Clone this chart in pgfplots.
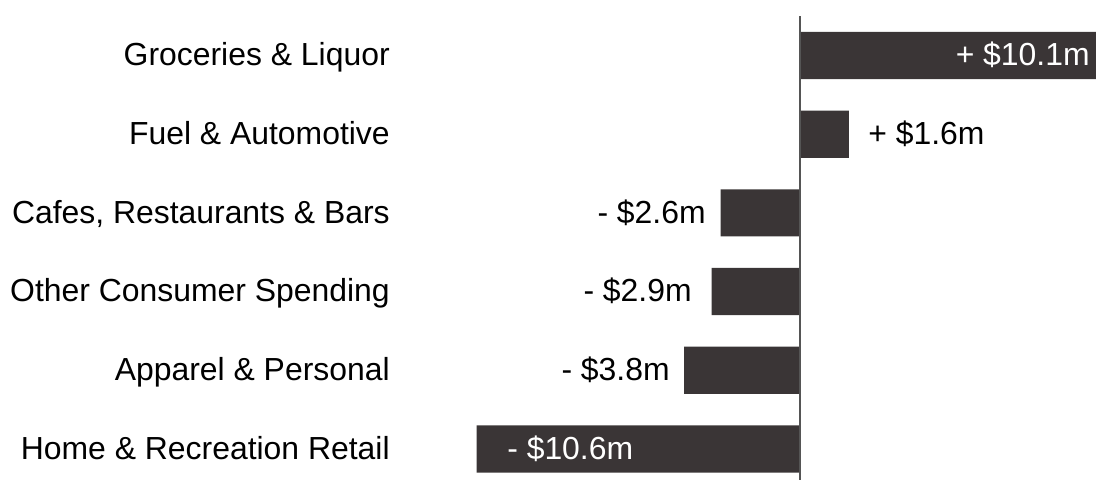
\documentclass[border=0pt]{standalone}
\usepackage{fontspec}
\setmainfont{Liberation Sans}
\usepackage{pgfplots}
\pgfplotsset{compat=1.18}
\definecolor{barfill}{HTML}{3A3536}
\definecolor{zeroline}{HTML}{555555}
\tikzset{lbl/.style={font=\fontsize{15.95}{18}\selectfont, inner sep=0pt, text height=0.72em, text depth=0pt, yshift=-1.6pt}}

\begin{document}
\begin{tikzpicture}
\begin{axis}[
  scale only axis,
  width=548pt,
  height=240pt,
  xbar,
  bar width=0.6,
  xmin=-26.23, xmax=9.705,
  ymin=-0.705, ymax=5.394,
  y dir=reverse,
  axis lines=none,
  xtick=\empty, ytick=\empty,
]
\addplot[fill=barfill, draw=none] coordinates {
  (10.1,0) (1.6,1) (-2.6,2) (-2.9,3) (-3.8,4) (-10.6,5)
};
\addplot[zeroline, line width=0.8pt, sharp plot, forget plot] coordinates {(0,-0.5) (0,5.394)};

\coordinate (bl) at (rel axis cs:0,0);
\coordinate (tr) at (rel axis cs:1,1);

% category labels
\node[lbl, anchor=east] at (axis cs:-13.44,0) {Groceries \& Liquor};
\node[lbl, anchor=east] at (axis cs:-13.44,1) {Fuel \& Automotive};
\node[lbl, anchor=east] at (axis cs:-13.44,2) {Cafes, Restaurants \& Bars};
\node[lbl, anchor=east] at (axis cs:-13.44,3) {Other Consumer Spending};
\node[lbl, anchor=east] at (axis cs:-13.44,4) {Apparel \& Personal};
\node[lbl, anchor=east] at (axis cs:-13.44,5) {Home \& Recreation Retail};

% value labels
\node[lbl, anchor=east, text=white] at (axis cs:9.51,0) {+ \$10.1m};
\node[lbl, anchor=west] at (axis cs:2.23,1) {+ \$1.6m};
\node[lbl, anchor=east] at (axis cs:-3.08,2) {- \$2.6m};
\node[lbl, anchor=east] at (axis cs:-3.54,3) {- \$2.9m};
\node[lbl, anchor=east] at (axis cs:-4.26,4) {- \$3.8m};
\node[lbl, anchor=west, text=white] at (axis cs:-9.61,5) {- \$10.6m};
\end{axis}
\pgfresetboundingbox
\path (bl) rectangle (tr);
\end{tikzpicture}
\end{document}
